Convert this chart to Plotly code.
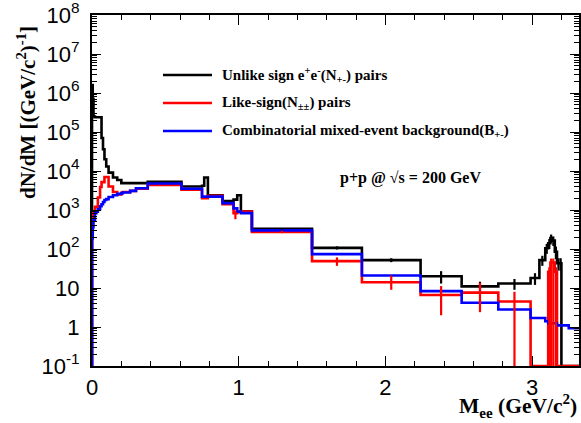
import numpy as np
import plotly.graph_objects as go

# ---------------- data ----------------
bin_edges = [0, 0.005, 0.01, 0.02, 0.03, 0.04, 0.055, 0.065, 0.075, 0.085, 0.097,
             0.113, 0.143, 0.172, 0.20, 0.21, 0.26, 0.30, 0.38, 0.61, 0.75, 0.765,
             0.79, 0.89, 0.965, 0.99, 1.015, 1.09, 1.50, 1.84, 2.24, 2.52, 2.77,
             2.99, 3.05, 3.09, 3.11, 3.125, 3.135, 3.155, 3.17, 3.19, 3.20, 3.25, 3.33]

unlike_sign = [1.6e6, 7e5, 2.5e5, 2.4e5, 2.4e5, 2.4e5, 2.4e5, 7e4, 3.6e4, 2e4, 1.3e4,
               9.1e3, 6.8e3, 5.9e3, 4.9e3, 4.9e3, 4.9e3, 4.9e3, 5.25e3, 4.0e3, 4.2e3,
               6.8e3, 2.4e3, 1.7e3, 1.85e3, 2.4e3, 920, 330, 107, 52, 20, 11, 13,
               18, 52, 105, 140, 190, 165, 85, 43, 43, 0, 0]
unlike_err = [0] * 27 + [15, 10, 6, 7, 3.5, 4, 6, 15, 30, 40, 45, 45, 30, 15, 15, 0, 0]

like_sign = [190, 830, 830, 1.2e3, 1.2e3, 2.1e3, 3.9e3, 5.2e3, 5.2e3, 7e3, 7e3,
             4e3, 2.9e3, 2.5e3, 2.75e3, 2.9e3, 3.1e3, 3.5e3, 4.4e3, 3.3e3, 2.0e3,
             2.0e3, 2.3e3, 1.4e3, 830, 890, 910, 275, 49, 14, 6.6, 7.6, 4.5,
             0, 0, 0, 26, 45, 45, 26, 0, 0, 0, 0]
like_err_lo = [0] * 24 + [250, 0, 0, 20, 12, 5, 4.6, 5.2, 4.5, 0, 0, 0, 26, 45, 45, 26, 0, 0, 0, 0]
like_err_hi = [0] * 24 + [150, 0, 0, 20, 12, 7, 4.6, 5.9, 3.5, 0, 0, 0, 8, 12, 12, 8, 0, 0, 0, 0]

mixed_bkg = [190, 360, 550, 830, 900, 1.05e3, 1.25e3, 1.4e3, 1.6e3, 1.8e3, 1.9e3,
             2.15e3, 2.4e3, 2.6e3, 2.7e3, 2.8e3, 3.1e3, 3.6e3, 4.8e3, 3.5e3, 2.2e3,
             2.2e3, 2.2e3, 1.5e3, 1.1e3, 910, 830, 300, 74, 21, 8.3, 4.2, 2.8,
             1.7, 1.7, 1.4, 1.25, 1.25, 1.25, 1.25, 1.1, 1.1, 1.1, 0.93]

y_tick_vals = [1e-1, 1, 10, 1e2, 1e3, 1e4, 1e5, 1e6, 1e7, 1e8]
y_tick_text = ["10<sup>-1</sup>", "1", "10", "10<sup>2</sup>", "10<sup>3</sup>",
               "10<sup>4</sup>", "10<sup>5</sup>", "10<sup>6</sup>", "10<sup>7</sup>",
               "10<sup>8</sup>"]
x_tick_vals = [0, 1, 2, 3]

legend_labels = ["Unlike sign e<sup>+</sup>e<sup>-</sup>(N<sub>+-</sub>) pairs",
                 "Like-sign(N<sub>±±</sub>) pairs",
                 "Combinatorial mixed-event background(B<sub>+-</sub>)"]
legend_colors = ["#000000", "#ff0000", "#0000ff"]

# ---------------- figure ----------------
YMIN = 0.1
edges = np.array(bin_edges)
centers = 0.5 * (edges[:-1] + edges[1:])

W, H = 581, 423
L, R, T, B = 92, 2, 15, 57
PW, PH = W - L - R, H - T - B


def px(xp):
    return (xp - L) / PW


def py(yp):
    return (H - B - yp) / PH


def step_xy(vals):
    v = np.array(vals, dtype=float)
    v = np.where(v > 0, v, YMIN)
    x = np.concatenate([[edges[0]], edges])
    y = np.concatenate([[YMIN], v, [v[-1]]])
    return x, y


fig = go.Figure()
for vals, col in [(unlike_sign, legend_colors[0]), (like_sign, legend_colors[1]),
                  (mixed_bkg, legend_colors[2])]:
    x, y = step_xy(vals)
    fig.add_trace(go.Scatter(x=x, y=y, mode="lines", line=dict(color=col, width=2.6, shape="hv"),
                             showlegend=False, hoverinfo="skip"))


def add_err(vals, lo, hi, col):
    v = np.array(vals, float)
    lo = np.array(lo, float)
    hi = np.array(hi, float)
    m = (lo > 0) | (hi > 0)
    lo_c = np.minimum(lo, v - YMIN * 0.5)
    fig.add_trace(go.Scatter(
        x=centers[m], y=v[m], mode="markers", marker=dict(size=0.1, color=col),
        error_y=dict(type="data", symmetric=False, array=hi[m], arrayminus=lo_c[m],
                     color=col, thickness=2.2, width=0),
        showlegend=False, hoverinfo="skip"))


add_err(unlike_sign, unlike_err, unlike_err, legend_colors[0])
add_err(like_sign, like_err_lo, like_err_hi, legend_colors[1])

tickfont = dict(family="Liberation Sans, Arial, sans-serif", size=22, color="black")
serif_b = dict(family="Liberation Serif, Times New Roman, serif", color="black", weight="bold")

# y minor ticks
y_minor = [k * 10.0 ** e for e in range(-1, 8) for k in range(2, 10)]

fig.update_layout(
    width=W, height=H, autosize=False,
    margin=dict(l=L, r=R, t=T, b=B, autoexpand=False),
    paper_bgcolor="white", plot_bgcolor="white",
    showlegend=False,
    xaxis=dict(range=[0, 3.32], tickvals=x_tick_vals, ticks="inside", ticklen=10,
               tickwidth=1, tickcolor="black", showline=True, linecolor="black",
               linewidth=2, mirror="ticks", showgrid=False, zeroline=False,
               tickfont=tickfont, ticklabelstandoff=1, automargin=False,
               ticklabeloverflow="allow",
               minor=dict(dtick=0.2, tick0=0, ticks="inside", ticklen=5, tickcolor="black",
                          tickwidth=1, showgrid=False)),
    yaxis=dict(type="log", range=[-1, 8.0005], tickvals=y_tick_vals, ticktext=y_tick_text,
               ticks="inside", ticklen=9, tickwidth=1, tickcolor="black",
               showline=True, linecolor="black", linewidth=2, mirror="ticks",
               showgrid=False, zeroline=False, tickfont=tickfont, ticklabelstandoff=6,
               automargin=False, ticklabeloverflow="allow",
               minor=dict(tickvals=y_minor, ticks="inside", ticklen=5, tickcolor="black",
                          tickwidth=1, showgrid=False)),
)

annotations = [
    dict(text="dN/dM [(GeV/c<sup>2</sup>)<sup>-1</sup>]", x=px(26), y=py(113),
         xref="paper", yref="paper", xanchor="center", yanchor="middle",
         textangle=-90, showarrow=False, font=dict(size=21, **serif_b)),
    dict(text="M<sub>ee</sub> (GeV/c<sup>2</sup>)", x=px(579), y=py(406),
         xref="paper", yref="paper", xanchor="right", yanchor="middle",
         showarrow=False, font=dict(size=21.5, **serif_b)),
    dict(text="p+p @ √s = 200 GeV", x=px(338), y=py(178),
         xref="paper", yref="paper", xanchor="left", yanchor="middle",
         showarrow=False, font=dict(size=16, **serif_b)),
]
shapes = []
for i, (lab, col) in enumerate(zip(legend_labels, legend_colors)):
    yy = 75 + 28 * i
    shapes.append(dict(type="line", xref="paper", yref="paper", x0=px(163), x1=px(212),
                       y0=py(yy), y1=py(yy), line=dict(color=col, width=2.6)))
    annotations.append(dict(text=lab, x=px(220), y=py(yy), xref="paper", yref="paper",
                            xanchor="left", yanchor="middle", showarrow=False,
                            font=dict(size=15, **serif_b)))
fig.update_layout(annotations=annotations, shapes=shapes)

fig.write_html("out.html", config={"responsive": False, "displayModeBar": False},
               post_script="document.body.style.margin='0px';document.body.style.overflow='hidden';")
